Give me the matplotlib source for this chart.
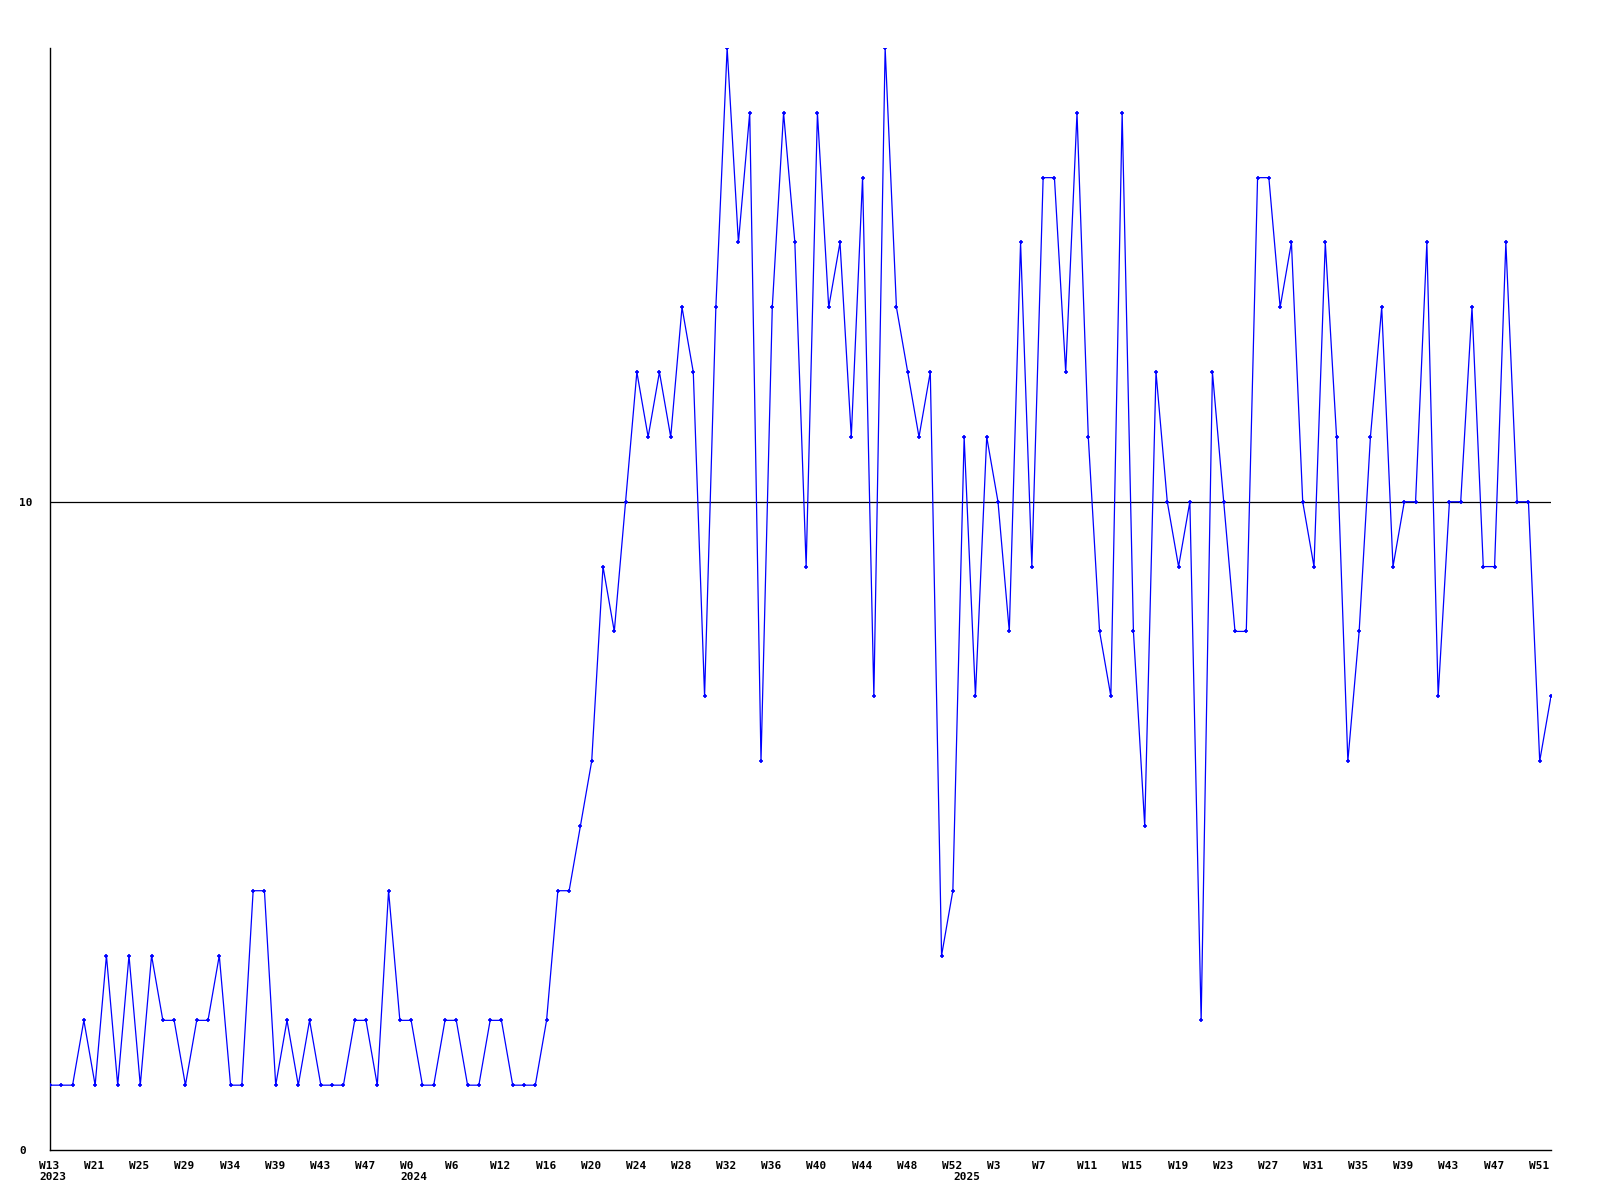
import matplotlib
matplotlib.use("Agg")
import matplotlib.pyplot as plt
from matplotlib.transforms import ScaledTranslation

values = [1, 1, 1, 2, 1, 3, 1, 3, 1, 3, 2, 2, 1, 2, 2, 3, 1, 1, 4, 4,
          1, 2, 1, 2, 1, 1, 1, 2, 2, 1, 4, 2, 2, 1, 1, 2, 2, 1, 1, 2,
          2, 1, 1, 1, 2, 4, 4, 5, 6, 9, 8, 10, 12, 11, 12, 11, 13, 12, 7, 13,
          17, 14, 16, 6, 13, 16, 14, 9, 16, 13, 14, 11, 15, 7, 17, 13, 12, 11, 12, 3,
          4, 11, 7, 11, 10, 8, 14, 9, 15, 15, 12, 16, 11, 8, 7, 16, 8, 5, 12, 10,
          9, 10, 2, 12, 10, 8, 8, 15, 15, 13, 14, 10, 9, 14, 11, 6, 8, 11, 13, 9,
          10, 10, 14, 7, 10, 10, 13, 9, 9, 14, 10, 10, 6, 7]

week_labels = ["W13", "W21", "W25", "W29", "W34", "W39", "W43", "W47", "W0", "W6",
               "W12", "W16", "W20", "W24", "W28", "W32", "W36", "W40", "W44", "W48",
               "W52", "W3", "W7", "W11", "W15", "W19", "W23", "W27", "W31", "W35",
               "W39", "W43", "W47", "W51"]
week_positions = [4 * i for i in range(len(week_labels))]

year_labels = ["2023", "2024", "2025"]
year_positions = [0, 32, 81]

ref_value = 10

fig = plt.figure(figsize=(16, 12), dpi=100)
ax = fig.add_axes([50 / 1600, 50 / 1200, (1551 - 50) / 1600, (1151 - 49) / 1200])

x = list(range(len(values)))
ax.axhline(ref_value, color="black", linewidth=0.9, zorder=1)
ax.plot(x, values, color="#0000ff", linewidth=0.9, marker="+", markersize=3.5,
        markeredgewidth=1.2, zorder=3)

ax.set_xlim(0, len(values) - 1)
ax.set_ylim(0, 17)

for s in ["top", "right"]:
    ax.spines[s].set_visible(False)
for s in ["left", "bottom"]:
    ax.spines[s].set_linewidth(1.0)
    ax.spines[s].set_color("black")

font = dict(family="DejaVu Sans Mono", weight="bold", size=8)

ax.set_yticks([0, 10])
ax.set_yticklabels(["0", "10"], ha="left", **font)
ax.tick_params(axis="y", length=0, pad=22)

ax.xaxis.remove_overlapping_locs = False
ax.set_xticks(week_positions)
ax.set_xticklabels(week_labels, ha="left", **font)
ax.set_xticks(year_positions, minor=True)
ax.set_xticklabels(year_labels, minor=True, ha="left", **font)
ax.tick_params(axis="x", which="major", length=0, pad=8)
ax.tick_params(axis="x", which="minor", length=0, pad=16)

off = ScaledTranslation(-11 / 100, 0, fig.dpi_scale_trans)
for lab in ax.get_xticklabels(which="both"):
    lab.set_transform(lab.get_transform() + off)

fig.savefig("out.png", dpi=100, facecolor="white")
